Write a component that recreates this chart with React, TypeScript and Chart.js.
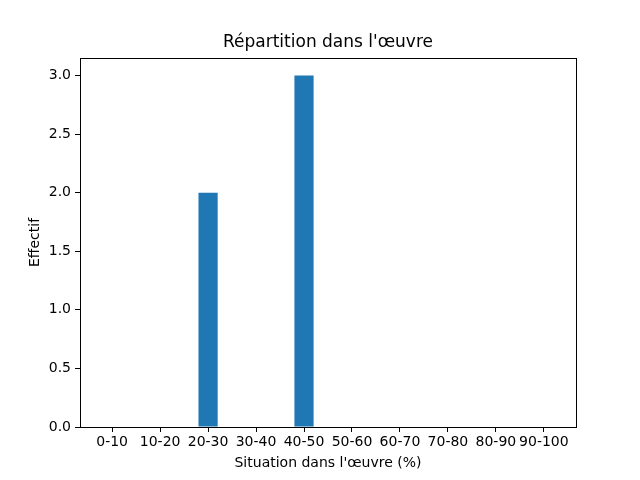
import React, { useEffect, useRef } from "react";
import { Chart, registerables } from "chart.js";

Chart.register(...registerables);

const categories = ["0-10", "10-20", "20-30", "30-40", "40-50", "50-60", "60-70", "70-80", "80-90", "90-100"];
const counts = [0, 0, 2, 0, 3, 0, 0, 0, 0, 0];
const yTicks = [0, 0.5, 1.0, 1.5, 2.0, 2.5, 3.0];
const titleText = "Répartition dans l'œuvre";
const xLabel = "Situation dans l'œuvre (%)";
const yLabel = "Effectif";

const FONT = "'DejaVu Sans', sans-serif";

const framePlugin = {
  id: "frame",
  afterDraw(chart: any) {
    const { ctx, chartArea } = chart;
    const { left, right, top, bottom } = chartArea;
    ctx.save();
    ctx.strokeStyle = "#000";
    ctx.lineWidth = 1;
    ctx.strokeRect(Math.round(left) + 0.5, Math.round(top) + 0.5, Math.round(right - left), Math.round(bottom - top));
    ctx.fillStyle = "#000";
    ctx.textAlign = "center";
    ctx.textBaseline = "middle";
    ctx.font = `17px ${FONT}`;
    ctx.fillText(titleText, (left + right) / 2, 43);
    ctx.font = `14px ${FONT}`;
    ctx.fillText(xLabel, (left + right) / 2, 463);
    ctx.translate(35, (top + bottom) / 2);
    ctx.rotate(-Math.PI / 2);
    ctx.fillText(yLabel, 0, 0);
    ctx.restore();
  },
};

export default function App() {
  const ref = useRef<HTMLCanvasElement>(null);
  useEffect(() => {
    if (!ref.current) return;
    const chart = new Chart(ref.current, {
      type: "bar",
      data: {
        datasets: [
          {
            data: counts.map((v, i) => ({ x: i, y: v })),
            backgroundColor: "#1f77b4",
            borderColor: "#1f77b4",
            barPercentage: 0.4,
            categoryPercentage: 1.0,
            borderWidth: 0,
          },
        ],
      },
      options: {
        animation: false,
        responsive: false,
        devicePixelRatio: 1,
        layout: { padding: { left: 0, right: 64, top: 58, bottom: 0 } },
        plugins: { legend: { display: false }, title: { display: false }, tooltip: { enabled: false } },
        scales: {
          x: {
            type: "linear",
            min: -0.67,
            max: 9.67,
            offset: false,
            afterBuildTicks: (s: any) => {
              s.ticks = categories.map((_, i) => ({ value: i }));
            },
            afterFit: (s: any) => {
              s.height = 53;
            },
            grid: { offset: false, drawOnChartArea: false, drawTicks: true, tickLength: 5, tickColor: "#000" },
            border: { display: false },
            ticks: {
              autoSkip: false,
              maxRotation: 0,
              padding: 2,
              color: "#000",
              font: { family: FONT, size: 14 },
              callback: (v: any) => categories[Math.round(Number(v))] ?? "",
            },
          },
          y: {
            type: "linear",
            min: 0,
            max: 3.15,
            afterBuildTicks: (s: any) => {
              s.ticks = yTicks.map((v) => ({ value: v }));
            },
            afterFit: (s: any) => {
              s.width = 80;
            },
            grid: { drawOnChartArea: false, drawTicks: true, tickLength: 5, tickColor: "#000" },
            border: { display: false },
            ticks: {
              padding: 4,
              color: "#000",
              font: { family: FONT, size: 14 },
              callback: (v: any) => Number(v).toFixed(1),
            },
          },
        },
      },
      plugins: [framePlugin],
    } as any);
    return () => chart.destroy();
  }, []);
  return (
    <div style={{ position: "fixed", left: 0, top: 0, width: 640, height: 480, background: "#fff" }}>
      <canvas ref={ref} width={640} height={480} style={{ width: 640, height: 480, display: "block" }} />
    </div>
  );
}
